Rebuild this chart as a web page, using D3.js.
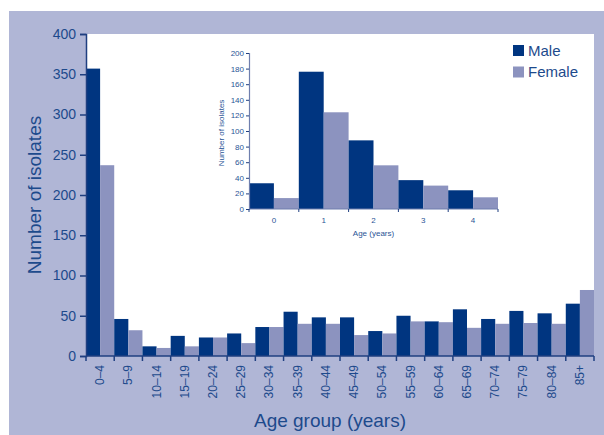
<!DOCTYPE html>
<html>
<head>
<meta charset="utf-8">
<script src="https://cdn.jsdelivr.net/npm/d3@7"></script>
<style>
  body { margin: 0; background: #fff; }
  text { font-family: "Liberation Sans", Arial, sans-serif; fill: #1d4a8c; }
</style>
</head>
<body>
<div id="chart"></div>
<script>
const width = 604, height = 435;

// main chart data
const ageGroups = ["0–4","5–9","10–14","15–19","20–24","25–29","30–34","35–39","40–44",
    "45–49","50–54","55–59","60–64","65–69","70–74","75–79","80–84","85+"];
const maleCounts = [357, 46, 12, 25, 23, 28, 36, 55, 48, 48, 31, 50, 43, 58, 46, 56, 53, 65];
const femaleCounts = [237, 32, 10, 12, 23, 16, 36, 40, 40, 26, 28, 43, 42, 35, 40, 41, 40, 82];
const mainTicks = [0, 50, 100, 150, 200, 250, 300, 350, 400];

// inset data (under 5 years)
const ages = ["0", "1", "2", "3", "4"];
const maleInset = [33, 176, 88, 37, 24];
const femaleInset = [14, 124, 56, 30, 15];
const insetTicks = [0, 20, 40, 60, 80, 100, 120, 140, 160, 180, 200];

const sexes = ["Male", "Female"];
const colors = {Male: "#003580", Female: "#8c93bf"};
const axisColor = "#1f3f80";

const svg = d3.select("#chart").append("svg")
    .attr("width", width)
    .attr("height", height);

// background panel
svg.append("rect")
    .attr("x", 9).attr("y", 11)
    .attr("width", width - 9).attr("height", height - 11)
    .attr("fill", "#b0b6d6");

// main plot area
const plot = {left: 86, top: 34, right: 594, bottom: 356};
svg.append("rect")
    .attr("x", plot.left).attr("y", plot.top)
    .attr("width", plot.right - plot.left).attr("height", plot.bottom - plot.top)
    .attr("fill", "#fff");

const x = d3.scaleBand().domain(ageGroups).range([plot.left, plot.right]);
const xSub = d3.scaleBand().domain(sexes).range([0, x.bandwidth()]);
const y = d3.scaleLinear().domain([0, 400]).range([plot.bottom, plot.top]);

const groups = svg.append("g").selectAll("g")
    .data(ageGroups)
    .join("g")
    .attr("transform", d => `translate(${x(d)},0)`);

groups.selectAll("rect")
    .data((d, i) => [{s: "Male", v: maleCounts[i]}, {s: "Female", v: femaleCounts[i]}])
    .join("rect")
    .attr("x", d => xSub(d.s))
    .attr("width", xSub.bandwidth())
    .attr("y", d => y(d.v))
    .attr("height", d => y(0) - y(d.v))
    .attr("fill", d => colors[d.s]);

// y axis
const yAxis = svg.append("g")
    .attr("transform", `translate(${plot.left},0)`)
    .call(d3.axisLeft(y).tickValues(mainTicks).tickSize(6).tickPadding(4));
yAxis.select(".domain").attr("stroke", axisColor).attr("stroke-width", 1.5);
yAxis.selectAll(".tick line").attr("stroke", axisColor).attr("stroke-width", 1.5);
yAxis.selectAll(".tick text").style("font-size", "14px").style("fill", "#1d4a8c");

// x axis: ticks at band edges
const xAxisG = svg.append("g").attr("transform", `translate(0,${plot.bottom})`);
xAxisG.append("line")
    .attr("x1", plot.left).attr("x2", plot.right)
    .attr("stroke", axisColor).attr("stroke-width", 1.5);
xAxisG.selectAll(".edge")
    .data(ageGroups.concat(["end"]))
    .join("line")
    .attr("class", "edge")
    .attr("x1", (d, i) => plot.left + i * x.step())
    .attr("x2", (d, i) => plot.left + i * x.step())
    .attr("y2", 5)
    .attr("stroke", axisColor).attr("stroke-width", 1.5);
xAxisG.selectAll(".lbl")
    .data(ageGroups)
    .join("text")
    .attr("class", "lbl")
    .attr("transform", d => `translate(${x(d) + x.bandwidth() / 2 + 4},9) rotate(-90)`)
    .attr("text-anchor", "end")
    .style("font-size", "12px")
    .text(d => d);

// axis titles
svg.append("text")
    .attr("transform", `translate(41,${(plot.top + plot.bottom) / 2}) rotate(-90)`)
    .attr("text-anchor", "middle")
    .style("font-size", "19px")
    .text("Number of isolates");
svg.append("text")
    .attr("x", 330).attr("y", 427)
    .attr("text-anchor", "middle")
    .style("font-size", "19px")
    .text("Age group (years)");

// legend
const legend = svg.append("g").selectAll("g")
    .data(sexes)
    .join("g")
    .attr("transform", (d, i) => `translate(513,${45 + i * 21.5})`);
legend.append("rect")
    .attr("width", 11).attr("height", 11)
    .attr("fill", d => colors[d]);
legend.append("text")
    .attr("x", 15).attr("y", 10.5)
    .style("font-size", "15px")
    .text(d => d);

// inset chart
const inset = {left: 249, top: 53, right: 498, bottom: 209};
const xi = d3.scaleBand().domain(ages).range([inset.left, inset.right]);
const xiSub = d3.scaleBand().domain(sexes).range([0, xi.bandwidth()]);
const yi = d3.scaleLinear().domain([0, 200]).range([inset.bottom, inset.top]);

svg.append("g").selectAll("g")
    .data(ages)
    .join("g")
    .attr("transform", d => `translate(${xi(d)},0)`)
    .selectAll("rect")
    .data((d, i) => [{s: "Male", v: maleInset[i]}, {s: "Female", v: femaleInset[i]}])
    .join("rect")
    .attr("x", d => xiSub(d.s))
    .attr("width", xiSub.bandwidth())
    .attr("y", d => yi(d.v))
    .attr("height", d => yi(0) - yi(d.v))
    .attr("fill", d => colors[d.s]);

const yiAxis = svg.append("g")
    .attr("transform", `translate(${inset.left},0)`)
    .call(d3.axisLeft(yi).tickValues(insetTicks).tickSize(3).tickPadding(2));
yiAxis.select(".domain").attr("stroke", "#6f7fae").attr("stroke-width", 1.2);
yiAxis.selectAll(".tick line").attr("stroke", axisColor);
yiAxis.selectAll(".tick text").style("font-size", "8px").style("fill", "#2a5596");

const xiAxis = svg.append("g").attr("transform", `translate(0,${inset.bottom})`);
xiAxis.append("line")
    .attr("x1", inset.left).attr("x2", inset.right)
    .attr("stroke", "#6f7fae").attr("stroke-width", 1.2);
xiAxis.selectAll(".edge")
    .data(ages.concat(["end"]))
    .join("line")
    .attr("class", "edge")
    .attr("x1", (d, i) => inset.left + i * xi.step())
    .attr("x2", (d, i) => inset.left + i * xi.step())
    .attr("y2", 3)
    .attr("stroke", axisColor);
xiAxis.selectAll(".lbl")
    .data(ages)
    .join("text")
    .attr("class", "lbl")
    .attr("x", d => xi(d) + xi.bandwidth() / 2)
    .attr("y", 14)
    .attr("text-anchor", "middle")
    .style("font-size", "8px")
    .style("fill", "#2a5596")
    .text(d => d);

svg.append("text")
    .attr("x", (inset.left + inset.right) / 2 - 0).attr("y", 236)
    .attr("text-anchor", "middle")
    .style("font-size", "8px")
    .style("fill", "#2a5596")
    .text("Age (years)");
svg.append("text")
    .attr("transform", `translate(224,${(inset.top + inset.bottom) / 2 + 2}) rotate(-90)`)
    .attr("text-anchor", "middle")
    .style("font-size", "8px")
    .style("fill", "#2a5596")
    .text("Number of isolates");
</script>
</body>
</html>
